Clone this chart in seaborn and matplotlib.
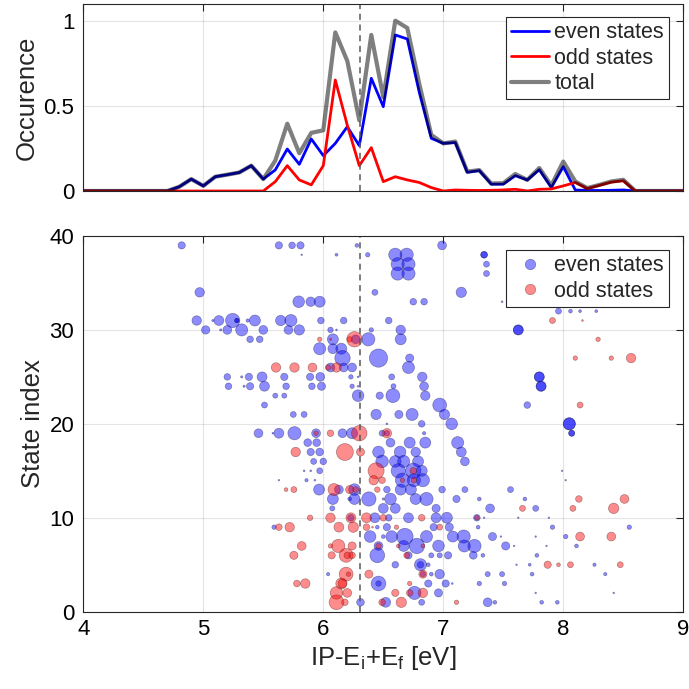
import numpy as np
import pandas as pd
import seaborn as sns
import matplotlib.pyplot as plt
from matplotlib.lines import Line2D

# ---- top panel: occurence per 0.1 eV bin ----
energy = [4.0, 4.1, 4.2, 4.3, 4.4, 4.5, 4.6, 4.7, 4.8, 4.9,
          5.0, 5.1, 5.2, 5.3, 5.4, 5.5, 5.6, 5.7, 5.8, 5.9,
          6.0, 6.1, 6.2, 6.3, 6.4, 6.5, 6.6, 6.7, 6.8, 6.9,
          7.0, 7.1, 7.2, 7.3, 7.4, 7.5, 7.6, 7.7, 7.8, 7.9,
          8.0, 8.1, 8.2, 8.3, 8.4, 8.5, 8.6, 8.7, 8.8, 8.9, 9.0]
even_occ = [0, 0, 0, 0, 0, 0, 0, 0, 0.025, 0.07,
            0.03, 0.084, 0.096, 0.109, 0.149, 0.07, 0.124, 0.247, 0.157, 0.306,
            0.208, 0.28, 0.378, 0.267, 0.663, 0.496, 0.918, 0.894, 0.58, 0.31,
            0.28, 0.285, 0.11, 0.12, 0.04, 0.04, 0.09, 0.065, 0.125, 0.02,
            0.143, 0.006, 0.003, 0.003, 0.004, 0.006, 0, 0, 0, 0, 0]
odd_occ = [0, 0, 0, 0, 0, 0, 0, 0, 0, 0,
           0, 0, 0, 0, 0, 0, 0.055, 0.149, 0.065, 0.036,
           0.149, 0.653, 0.387, 0.149, 0.255, 0.055, 0.084, 0.065, 0.05, 0.02,
           0.0, 0.006, 0.004, 0.003, 0.004, 0.006, 0.01, 0.0, 0.01, 0.012,
           0.03, 0.05, 0.014, 0.033, 0.052, 0.06, 0, 0, 0, 0, 0]
total_occ = np.array(even_occ) + np.array(odd_occ)

ip_line = 6.31

# ---- bottom panel: (energy, state index, marker radius) ----
even_pts = [
    (4.82, 39, 3.3), (5.63, 39, 3.3), (5.74, 39, 3), (5.81, 39, 3.3), (6.28, 39, 1.7), (6.99, 39, 4),
    (5.82, 38, 0.7), (6.11, 38, 1.3), (6.37, 38, 2), (6.60, 38, 6), (6.695, 38, 6), (7.34, 38, 3), (7.34, 38, 3),
    (6.62, 37, 6), (6.71, 37, 6), (7.36, 37, 2.7),
    (6.62, 36, 6), (6.71, 36, 6), (7.36, 36, 2.7),
    (4.97, 34, 4.3), (6.43, 34, 2.7), (7.15, 34, 4.7),
    (5.795, 33, 5.3), (5.895, 33, 4.3), (5.97, 33, 5), (6.75, 33, 3), (6.84, 33, 3), (7.49, 33, 0.8),
    (7.96, 32, 2.7), (8.06, 32, 1.7), (8.14, 32, 1.3), (8.275, 32, 1.3),
    (4.945, 31, 4.3), (5.08, 31, 1), (5.13, 31, 4.5), (5.245, 31, 6.5), (5.28, 31, 2), (5.28, 31, 2),
    (5.37, 31, 1.5), (5.43, 31, 5), (5.645, 31, 4.7), (5.73, 31, 5.5), (5.98, 31, 3), (6.17, 31, 3), (6.545, 31, 3),
    (5.02, 30, 3.8), (5.145, 30, 1), (5.2, 30, 4), (5.32, 30, 5.5), (5.50, 30, 4), (5.71, 30, 4), (5.80, 30, 4.7),
    (6.06, 30, 2.5), (6.11, 30, 0.8), (6.40, 30, 2), (6.645, 30, 4.3), (7.625, 30, 4.5), (7.625, 30, 4.5),
    (5.39, 29, 3), (5.47, 29, 3), (6.08, 29, 5), (6.27, 29, 4), (6.375, 29, 6), (6.645, 29, 5),
    (5.97, 28, 5.5), (6.08, 28, 4.5), (6.15, 28, 5),
    (6.16, 27, 7), (6.46, 27, 8.3), (6.72, 27, 3.7),
    (6.06, 26, 4), (6.17, 26, 4), (6.24, 26, 4), (6.71, 26, 5.5),
    (5.2, 25, 3), (5.32, 25, 1), (5.38, 25, 3.3), (5.49, 25, 4.5), (5.675, 25, 3.3), (5.89, 25, 3.3), (5.975, 25, 4),
    (6.23, 25, 2), (6.29, 25, 0.8), (6.57, 25, 2.7), (6.825, 25, 4.3), (7.80, 25, 4.5), (7.80, 25, 4.5),
    (5.21, 24, 3), (5.34, 24, 1), (5.39, 24, 3.3), (5.51, 24, 4.5), (5.69, 24, 3), (5.905, 24, 3), (5.985, 24, 3.7),
    (6.24, 24, 2), (6.29, 24, 0.8), (6.585, 24, 2.3), (6.84, 24, 4), (7.815, 24, 4.5), (7.815, 24, 4.5),
    (5.6, 23, 2.3), (5.675, 23, 2.3), (6.29, 23, 5.3), (6.47, 23, 3.3), (6.58, 23, 6.3), (6.85, 23, 4.3),
    (5.51, 22, 2.7), (6.97, 22, 6.3), (7.70, 22, 3),
    (5.75, 21, 2.7), (5.84, 21, 2.7), (6.44, 21, 4.7), (6.63, 21, 3.7), (6.74, 21, 5.5), (7.01, 21, 4.7),
    (6.53, 20, 0.8), (6.82, 20, 3), (7.07, 20, 5.3), (8.05, 20, 5.5), (8.05, 20, 5.5),
    (5.46, 19, 4), (5.58, 19, 0.8), (5.63, 19, 4.5), (5.76, 19, 6), (5.94, 19, 4), (6.16, 19, 4), (6.24, 19, 5),
    (6.49, 19, 2.7), (6.53, 19, 2.5), (6.84, 19, 1.5), (8.07, 19, 2.7), (8.07, 19, 2.7),
    (5.87, 18, 3.5), (5.945, 18, 3.5), (6.56, 18, 4), (6.72, 18, 5), (6.85, 18, 5), (7.12, 18, 5.5),
    (5.895, 17, 3.3), (5.97, 17, 3.5), (6.46, 17, 5.3), (6.64, 17, 5.3), (6.77, 17, 4.3), (7.15, 17, 4.5),
    (5.92, 16, 2.7), (6.0, 16, 3), (6.49, 16, 5.7), (6.6, 16, 5.3), (6.67, 16, 5.5), (6.79, 16, 5), (7.18, 16, 4),
    (5.84, 15, 0.8), (5.895, 15, 0.8), (5.97, 15, 2.7), (6.625, 15, 6.5), (6.75, 15, 7), (6.82, 15, 5), (7.99, 15, 0.7),
    (5.63, 14, 0.7), (5.86, 14, 1.5), (5.93, 14, 0.8), (6.66, 14, 6.5), (6.755, 14, 6), (6.83, 14, 6), (8.02, 14, 0.7),
    (5.965, 13, 5), (6.13, 13, 4), (6.26, 13, 5.3), (6.53, 13, 3), (6.645, 13, 5), (6.73, 13, 5), (6.99, 13, 3),
    (7.18, 13, 2.7), (7.56, 13, 2.7),
    (6.08, 12, 5), (6.22, 12, 1.7), (6.26, 12, 5), (6.38, 12, 6.5), (6.5, 12, 1), (6.56, 12, 5.3), (6.77, 12, 5),
    (6.86, 12, 6), (7.11, 12, 3.3), (7.30, 12, 1.7), (7.68, 12, 1.7),
    (6.075, 11, 2.3), (6.5, 11, 4.5), (6.6, 11, 4.5), (6.94, 11, 3.7), (7.39, 11, 4), (7.77, 11, 2.7),
    (6.23, 10, 3), (6.43, 10, 4.5), (6.545, 10, 3), (6.71, 10, 4.5), (6.94, 10, 4.5), (7.03, 10, 5), (7.28, 10, 3),
    (7.34, 10, 0.7), (7.625, 10, 0.7), (7.88, 10, 0.7),
    (5.59, 9, 2), (6.45, 9, 1.7), (6.53, 9, 3.3), (6.92, 9, 3.3), (7.05, 9, 3.7), (7.29, 9, 1.7), (7.91, 9, 2), (8.55, 9, 2),
    (6.39, 8, 5.3), (6.5, 8, 1.7), (6.57, 8, 5.3), (6.68, 8, 7.5), (6.86, 8, 5.5), (7.08, 8, 5), (7.17, 8, 6),
    (7.41, 8, 3.7), (7.48, 8, 0.7), (7.77, 8, 0.7), (8.02, 8, 2),
    (6.46, 7, 4), (6.67, 7, 5), (6.78, 7, 7), (6.96, 7, 5.3), (7.175, 7, 5.5), (7.26, 7, 6), (7.52, 7, 3.7),
    (7.59, 7, 0.7), (7.86, 7, 0.7), (8.11, 7, 1.7),
    (6.45, 6, 6.7), (6.71, 6, 3.3), (6.90, 6, 2.3), (6.97, 6, 2.3), (7.04, 6, 3.3), (7.25, 6, 3.5), (7.33, 6, 1.7), (7.78, 6, 1.7),
    (6.60, 5, 3), (6.81, 5, 5.5), (6.81, 5, 3), (6.875, 5, 1.7), (7.61, 5, 0.7), (7.72, 5, 1.3), (8.26, 5, 1.5),
    (6.04, 4, 1.5), (6.83, 4, 2.5), (6.90, 4, 1.7), (6.97, 4, 4.3), (7.37, 4, 2.3), (7.49, 4, 2.3), (7.74, 4, 1.7), (8.35, 4, 1.5),
    (6.46, 3, 6.7), (6.46, 3, 2.5), (6.875, 3, 3.3), (7.02, 3, 3.3), (7.075, 3, 0.8), (7.30, 3, 2), (7.51, 3, 2),
    (6.76, 2, 6), (6.96, 2, 3.7), (7.77, 2, 0.7), (8.42, 2, 0.7),
    (6.31, 1, 3.5), (6.52, 1, 4.5), (6.82, 1, 2.7), (7.37, 1, 4), (7.43, 1, 1.7), (7.82, 1, 1.7), (7.95, 1, 1.7),
]

odd_pts = [
    (7.91, 31, 2.7), (8.16, 31, 0.8),
    (5.97, 29, 2), (6.06, 29, 1), (6.22, 29, 2.5), (6.26, 29, 7), (8.29, 29, 2),
    (8.10, 27, 2), (8.40, 27, 2), (8.565, 27, 4.3),
    (5.606, 26, 4.3), (5.76, 26, 4.3), (5.91, 26, 4), (6.04, 26, 2.5), (6.11, 26, 4.3),
    (8.14, 22, 2.7),
    (5.94, 19, 2), (6.06, 19, 3), (6.30, 19, 7), (6.53, 19, 4.3),
    (5.77, 17, 4.3), (6.18, 17, 7.7), (6.31, 17, 3.7),
    (6.44, 15, 7.3), (6.75, 15, 3),
    (6.42, 14, 4.3), (6.49, 14, 3), (6.66, 14, 2), (6.755, 14, 2.5),
    (5.69, 13, 1.7), (5.755, 13, 2.7), (6.09, 13, 5.5), (6.22, 13, 3.7), (6.27, 13, 2.7), (6.45, 13, 2.5),
    (8.13, 12, 3), (8.51, 12, 4),
    (7.66, 11, 2.7), (8.08, 11, 2.7), (8.42, 11, 4.7),
    (5.89, 10, 2.5), (6.06, 10, 4.3), (6.23, 10, 4.5), (6.36, 10, 4.5), (6.5, 10, 3), (6.82, 10, 3), (7.28, 10, 2),
    (5.63, 9, 3), (5.72, 9, 4.3), (6.13, 9, 4.5), (6.25, 9, 4.7), (6.36, 9, 3), (6.41, 9, 0.8), (6.61, 9, 2), (6.97, 9, 2.7),
    (8.14, 8, 4), (8.40, 8, 4),
    (5.82, 7, 4), (6.06, 7, 2), (6.125, 7, 6), (6.24, 7, 3.7), (6.46, 7, 2.5), (6.625, 7, 1.7), (6.83, 7, 1.7),
    (5.755, 6, 3.7), (6.07, 6, 3.3), (6.19, 6, 6.3), (6.20, 6, 3), (6.24, 6, 3), (6.695, 6, 2.7),
    (7.87, 5, 3.3), (7.96, 5, 1.7), (8.06, 5, 2.7), (8.475, 5, 2.7),
    (6.19, 4, 6.3), (6.21, 4, 2), (6.38, 4, 3.7), (6.83, 4, 3.7),
    (5.78, 3, 3), (5.85, 3, 4.3), (6.15, 3, 5), (6.16, 3, 4), (6.72, 3, 2),
    (6.11, 2, 5.7), (6.2, 2, 4), (6.6, 2, 3.3), (6.72, 2, 3), (6.83, 2, 4.3),
    (6.11, 1, 6.7), (6.18, 1, 3), (6.49, 1, 3), (6.65, 1, 4.7), (7.11, 1, 2),
]

even_df = pd.DataFrame(even_pts, columns=['E', 'state', 'r'])
odd_df = pd.DataFrame(odd_pts, columns=['E', 'state', 'r'])
# marker area follows r^2
even_df['w'] = even_df['r'] ** 2
odd_df['w'] = odd_df['r'] ** 2

sns.set_style('whitegrid')
plt.rcParams['font.family'] = ['Liberation Sans', 'DejaVu Sans']
plt.rcParams['mathtext.fontset'] = 'custom'
plt.rcParams['mathtext.rm'] = 'Liberation Sans'

DPI = 100
fig = plt.figure(figsize=(6.89, 6.89), dpi=DPI)
ax1 = fig.add_axes([0.1209, 0.7228, 0.8708, 0.2714])
ax2 = fig.add_axes([0.1209, 0.1122, 0.8708, 0.5453])

frame_c = (0.15, 0.15, 0.15)
TICK_FS = 16
LABEL_FS = 18.5
LEG_FS = 15.5


def style_axes(ax):
    for sp in ax.spines.values():
        sp.set_color(frame_c)
        sp.set_linewidth(0.8)
        sp.set_visible(True)
    ax.grid(True, color=(0.15, 0.15, 0.15), alpha=0.12, lw=0.8)
    ax.tick_params(direction='in', top=True, right=True, length=5, width=0.8,
                   color=frame_c, labelcolor='black', labelsize=TICK_FS)
    ax.tick_params(axis='y', pad=6.5)
    ax.tick_params(axis='x', pad=5.5)


def style_legend(leg):
    leg.get_frame().set_linewidth(0.8)
    leg.get_frame().set_edgecolor(frame_c)


# top panel
sns.lineplot(x=energy, y=even_occ, ax=ax1, color='blue', lw=2, label='even states')
sns.lineplot(x=energy, y=odd_occ, ax=ax1, color='red', lw=2, label='odd states')
sns.lineplot(x=energy, y=total_occ, ax=ax1, color='black', alpha=0.5, lw=3, label='total')
ax1.axvline(ip_line, color=(0.35, 0.35, 0.35), ls=(0, (4, 3)), lw=1.1)
ax1.set_xlim(4, 9)
ax1.set_ylim(0, 1.1)
ax1.set_xticks([4, 5, 6, 7, 8, 9])
ax1.set_xticklabels([])
ax1.set_yticks([0, 0.5, 1])
ax1.set_yticklabels(['0', '0.5', '1'])
ax1.set_ylabel('Occurence', fontsize=LABEL_FS, labelpad=3)
style_axes(ax1)
leg1 = ax1.legend(loc='upper right', bbox_to_anchor=(0.977, 0.93), fontsize=LEG_FS,
                  handlelength=1.75, handletextpad=0.25, borderpad=0.25, labelspacing=0.2,
                  borderaxespad=0, fancybox=False, framealpha=1)
style_legend(leg1)

# bottom panel
r2_min, r2_max = 0.49, 70.0
area_per_r2 = 2.5   # pt^2 of marker area per px^2 of radius
sns.scatterplot(data=even_df, x='E', y='state', size='w',
                sizes=(r2_min * area_per_r2, r2_max * area_per_r2),
                size_norm=(r2_min, r2_max), ax=ax2, legend=False,
                color=(0, 0, 1), alpha=0.45, edgecolor=(0.1, 0.1, 0.3), linewidth=0.5)
sns.scatterplot(data=odd_df, x='E', y='state', size='w',
                sizes=(r2_min * area_per_r2, r2_max * area_per_r2),
                size_norm=(r2_min, r2_max), ax=ax2, legend=False,
                color=(1, 0, 0), alpha=0.45, edgecolor=(0.3, 0.1, 0.1), linewidth=0.5)
ax2.axvline(ip_line, color=(0.35, 0.35, 0.35), ls=(0, (4, 3)), lw=1.1)
ax2.set_xlim(4, 9)
ax2.set_ylim(0, 40)
ax2.set_xticks([4, 5, 6, 7, 8, 9])
ax2.set_yticks([0, 10, 20, 30, 40])
ax2.set_xlabel(r'IP-E$_\mathregular{i}$+E$_\mathregular{f}$ [eV]', fontsize=LABEL_FS, labelpad=3)
ax2.set_ylabel('State index', fontsize=LABEL_FS, labelpad=3)
style_axes(ax2)
handles = [
    Line2D([], [], ls='', marker='o', ms=7.5, mfc=(0, 0, 1, 0.45), mec=(0.1, 0.1, 0.3, 0.45), mew=0.5,
           label='even states'),
    Line2D([], [], ls='', marker='o', ms=7.5, mfc=(1, 0, 0, 0.45), mec=(0.3, 0.1, 0.1, 0.45), mew=0.5,
           label='odd states'),
]
leg2 = ax2.legend(handles=handles, loc='upper right', bbox_to_anchor=(0.977, 0.963), fontsize=LEG_FS,
                  handlelength=1.75, handletextpad=0.25, borderpad=0.25, labelspacing=0.2,
                  borderaxespad=0, fancybox=False, framealpha=1)
style_legend(leg2)

fig.savefig('out.png', dpi=DPI)
